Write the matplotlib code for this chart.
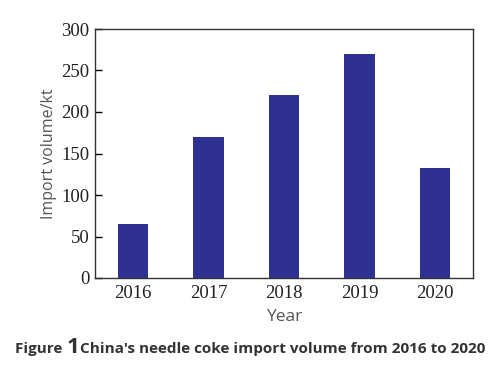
import matplotlib
matplotlib.use("Agg")
from matplotlib import pyplot as plt

years = ["2016", "2017", "2018", "2019", "2020"]
imports = [65, 170, 220, 270, 132]


def main():
    fig = plt.figure(figsize=(4.99, 3.70), dpi=100)
    ax = fig.add_axes([95 / 499, 1 - 278 / 370, 378 / 499, 249 / 370])

    ax.bar(range(len(years)), imports, width=0.4, color="#2e3192")
    ax.set_xlim(-0.5, 4.5)
    ax.set_ylim(0, 300)
    ax.set_xticks(range(len(years)))
    ax.set_xticklabels(years)
    ax.set_yticks(range(0, 301, 50))

    for lab in ax.get_xticklabels() + ax.get_yticklabels():
        lab.set_fontfamily("Liberation Serif")
        lab.set_fontsize(13.5)
        lab.set_color("#222222")
    ax.tick_params(axis="y", direction="in", length=5, width=1, pad=4)
    ax.tick_params(axis="x", length=0, pad=5)
    for s in ax.spines.values():
        s.set_linewidth(1.0)
        s.set_color("#333333")

    ax.set_ylabel("Import volume/kt", fontfamily="Open Sans", fontsize=11.5,
                  color="#555555", labelpad=3)
    ax.set_xlabel("Year", fontfamily="Open Sans", fontsize=12.5,
                  color="#555555", labelpad=5)

    # caption built from pieces so the big "1" sits inline
    fig.canvas.draw()
    r = fig.canvas.get_renderer()
    y = 1 - 353 / 370
    x = 15
    parts = [("Figure ", "bold", 11.0), ("1", "bold", 16),
             ("China's needle coke import volume from 2016 to 2020", "bold", 11.0)]
    for txt, w, fs in parts:
        t = fig.text(x / 499, y, txt, fontfamily="Open Sans", fontweight=w,
                     fontsize=fs, color="#333333", va="baseline")
        x += t.get_window_extent(r).width + (1 if txt == "1" else 0)

    fig.savefig("out.png", dpi=100)


if __name__ == '__main__':
    main()
